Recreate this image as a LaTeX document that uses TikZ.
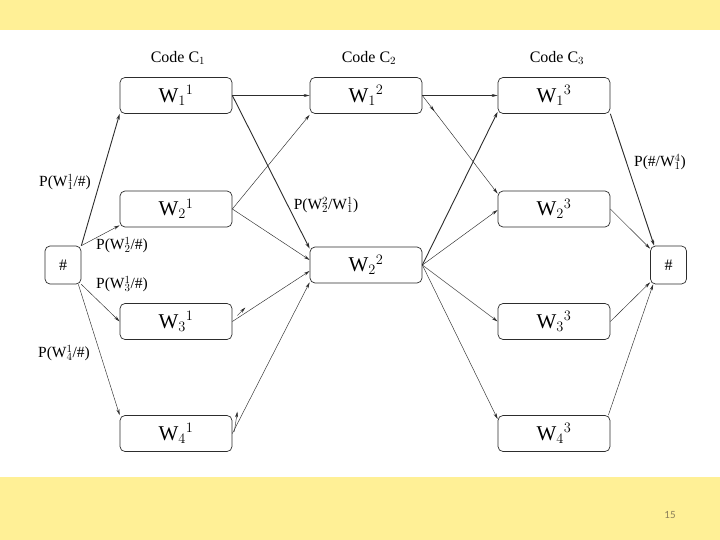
\documentclass[tikz,border=0pt]{standalone}
\usepackage{fontspec}
\setmainfont{Liberation Serif}
\newfontfamily\pagefont{Carlito}
\usetikzlibrary{arrows.meta,calc,decorations.markings}
\definecolor{band}{RGB}{255,240,150}
\definecolor{ink}{RGB}{45,45,45}
\definecolor{pagenum}{RGB}{140,128,90}
\begin{document}
\begin{tikzpicture}[x=1pt,y=-1pt,
  wbox/.style={draw=ink, line width=0.7pt, rounded corners=5pt, minimum width=112pt, minimum height=36pt, inner sep=0pt, font=\fontsize{21}{21}\selectfont},
  hbox/.style={draw=ink, line width=0.7pt, rounded corners=5pt, minimum width=36pt, minimum height=38pt, inner sep=0pt, font=\fontsize{16}{16}\selectfont},
  lbl/.style={font=\fontsize{15.5}{15.5}\selectfont, inner sep=0pt},
  hdr/.style={font=\fontsize{16}{16}\selectfont, inner sep=0pt},
  conn/.style={draw=ink, line width=0.45pt, -{Stealth[length=6pt,width=3pt]}},
  boldconn/.style={draw=ink, line width=0.9pt, -{Stealth[length=6pt,width=3.5pt]}},
  midtip/.style={postaction={decorate, decoration={markings, mark=at position #1 with {\arrow{Stealth[length=6pt,width=3pt]}}}}}
]
\useasboundingbox (0,0) rectangle (720,540);
\fill[band] (0,0) rectangle (720,30);
\fill[white] (0,30) rectangle (720,477);
\fill[band] (0,477) rectangle (720,540);

% headers
\node[hdr] (c1) at (178,58) {Code C$_1$};
\node[hdr] (c2) at (369,58) {Code C$_2$};
\node[hdr] (c3) at (557,58) {Code C$_3$};

% nodes
\node[wbox] (W11) at (176,95.5) {W$_1{}^1$};
\node[wbox] (W21) at (176,209) {W$_2{}^1$};
\node[wbox] (W31) at (176,321.5) {W$_3{}^1$};
\node[wbox] (W41) at (176,433.5) {W$_4{}^1$};
\node[wbox] (W12) at (366,95.5) {W$_1{}^2$};
\node[wbox] (W22) at (366,265) {W$_2{}^2$};
\node[wbox] (W13) at (554,95.5) {W$_1{}^3$};
\node[wbox] (W23) at (554,209) {W$_2{}^3$};
\node[wbox] (W33) at (554,321.5) {W$_3{}^3$};
\node[wbox] (W43) at (554,433.5) {W$_4{}^3$};
\node[hbox] (hL) at (63,265) {\#};
\node[hbox] (hR) at (668.5,265) {\#};

% from left #
\draw[boldconn] (hL.north east) -- (W11.south west);
\draw[conn] (hL.north east) -- ($(W21.south west)+(0,-2)$);
\draw[conn] (hL.south east) -- (W31.west);
\draw[conn] ($(hL.south east)+(-3,0)$) -- (W41.north west);

% column 1 -> column 2
\draw[conn] (W11.east) -- (W12.west);
\draw[boldconn] (W11.east) -- ($(W22.north west)+(0,2)$);
\draw[conn] (W21.east) -- ($(W12.south west)+(0,1)$);
\draw[conn] (W21.east) -- ($(W22.west)+(0,-5)$);
\draw[conn] (W31.east) -- ($(W22.west)+(0,6)$);
\draw[conn] (W41.east) -- ($(W22.south west)+(0,-1)$);
\draw[conn] ($(W31.east)+(5,-6)$) -- ++(8,-8);
\draw[conn] ($(W41.east)+(2,-2)$) -- ++(3,-20);

% column 2 -> column 3
\draw[conn] (W12.east) -- (W13.west);
\draw[conn, midtip=0.16] (W12.east) -- ($(W23.north west)+(0,3)$);
\draw[boldconn] (W22.east) -- ($(W13.south west)+(0,-2)$);
\draw[conn] (W22.east) -- ($(W23.west)+(0,1)$);
\draw[conn] (W22.east) -- (W33.west);
\draw[conn] (W22.east) -- ($(W43.north west)+(0,4)$);

% column 3 -> right #
\draw[boldconn] (W13.south east) -- ($(hR.north west)+(4,0)$);
\draw[conn] (W23.east) -- ($(hR.north west)+(0,3)$);
\draw[conn] (W33.east) -- ($(hR.south west)+(0,-2)$);
\draw[conn] ($(W43.north east)+(-2,0)$) -- ($(hR.south west)+(3,0)$);

% labels
\node[lbl] (p1) at (65,182) {P(W$_1^1$/\#)};
\node[lbl] (p2) at (122,245) {P(W$_2^1$/\#)};
\node[lbl] (p3) at (122,284) {P(W$_3^1$/\#)};
\node[lbl] (p4) at (64,353) {P(W$_4^1$/\#)};
\node[lbl] (p5) at (326,205) {P(W$_2^2$/W$_1^1$)};
\node[lbl] (p6) at (660,162) {P(\#/W$_1^4$)};

\node[font=\pagefont\fontsize{11}{11}\selectfont, text=pagenum] (pg) at (670,515) {15};
\end{tikzpicture}
\end{document}
